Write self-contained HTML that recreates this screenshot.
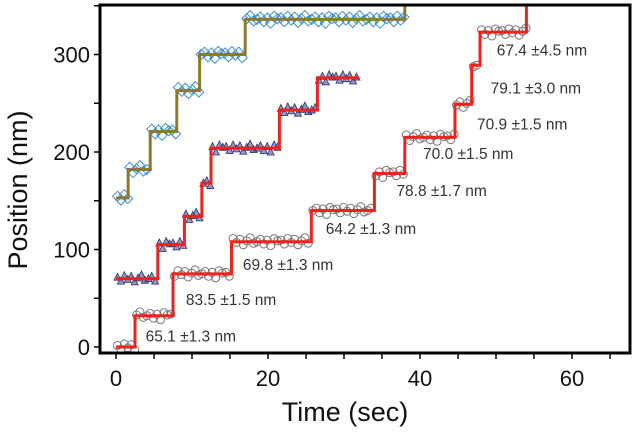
<!DOCTYPE html>
<html><head><meta charset="utf-8"><style>
html,body{margin:0;padding:0;background:#fff;}
svg{display:block;font-family:"Liberation Sans",sans-serif;}
</style></head><body>
<svg id="chart" width="634" height="437" viewBox="0 0 634 437"></svg>
<script>
// data (time sec, position nm)
const goldTimes=[0,1.6,4.5,8,11,17,38];
const goldLevels=[153,182,221,263,300,336,400];
const goldEnd=38;
const redTimes=[0,5.5,9,11.3,12.5,21.5,26.5];
const redLevels=[70,105,134,168,204,243,276];
const redEnd=32;
const greyTimes=[0,2.5,7.5,15.2,25.7,34,38,44.6,46.8,47.9,54];
const greyLevels=[0,32,75,108,140,178,215,249,289,323,400];
const greyEnd=54;
const jitter=[2,-3,4,-1,3,-4,1,5,-2,0,3,-3,2,-5,4,1];
const xTicks=[0,20,40,60];
const yTicks=[0,100,200,300];
const labels=["65.1 \u00b11.3 nm","83.5 \u00b11.5 nm","69.8 \u00b11.3 nm","64.2 \u00b11.3 nm","78.8 \u00b11.7 nm","70.0 \u00b11.5 nm","70.9 \u00b11.5 nm","79.1 \u00b13.0 nm","67.4 \u00b14.5 nm"];
const labelT=[3.9,9.2,16.7,27.6,36.9,40.4,47.5,49.3,50.1];
const labelV=[11,48,84,121,160,198,228,265,304];

const X=t=>116+7.6*t, Y=v=>347-0.975*v;
const L=100,R=630,T=5,B=353;
const svg=document.getElementById('chart');
const NS='http://www.w3.org/2000/svg';
function mk(tag,attrs,parent){const e=document.createElementNS(NS,tag);for(const k in attrs)e.setAttribute(k,attrs[k]);(parent||svg).appendChild(e);return e;}

const defs=mk('defs',{});
const cp=mk('clipPath',{id:'clip'},defs);mk('rect',{x:L,y:T,width:R-L,height:B-T},cp);
const plot=mk('g',{'clip-path':'url(#clip)'});



function markers(times,levels,end,kind,name){
  const g=mk('g',{},plot);
  
  
  let j=0;
  for(let i=0;i<times.length;i++){
    const t1=i+1<times.length?times[i+1]:end;
    if(times[i]>=end)break;
    for(let t=times[i]+0.2;t<t1;t+=0.45){
      const x=X(t),y=Y(levels[i]+jitter[j%jitter.length]*0.8);j++;
      let m;
      if(kind==='d')m=mk('path',{d:`M${x} ${y-5}L${x+5} ${y}L${x} ${y+5}L${x-5} ${y}Z`,fill:'none',stroke:'#3b8fdb','stroke-width':1},g);
      else if(kind==='t')m=mk('path',{d:`M${x} ${y-4}L${x+3.5} ${y+3}L${x-3.5} ${y+3}Z`,fill:'#2b2f78',stroke:'#2b2f78','stroke-width':0.8,'fill-opacity':0.5},g);
      else m=mk('circle',{cx:x,cy:y,r:4,fill:'none',stroke:'#777','stroke-width':1},g);
      
      
    }
  }
}
function steps(times,levels,end,color,name){
  let d=`M${X(times[0])} ${Y(levels[0])}`;
  for(let i=0;i<times.length;i++){
    if(i>0)d+=`L${X(times[i])} ${Y(levels[i])}`;
    const t1=i+1<times.length?times[i+1]:end;
    if(times[i]<end)d+=`L${X(t1)} ${Y(levels[i])}`;
  }
  const p=mk('path',{d,fill:'none',stroke:color,'stroke-width':3},plot);
  
  
}
markers(goldTimes,goldLevels,goldEnd,'d','blue-diamond-points');
markers(redTimes,redLevels,redEnd,'t','triangle-points');
markers(greyTimes,greyLevels,greyEnd,'c','circle-points');
steps(goldTimes,goldLevels,goldEnd,'#8b7a2e','gold-step-fit');
steps(redTimes,redLevels,redEnd,'#f0221c','red-step-fit-triangles');
steps(greyTimes,greyLevels,greyEnd,'#f0221c','red-step-fit-circles');

labels.forEach((s,i)=>{
  const t=mk('text',{x:X(labelT[i]),y:Y(labelV[i])+5,'font-size':15.5,fill:'#333'});
  t.textContent=s;
  
  
});

// frame
const fr=mk('rect',{x:L,y:T,width:R-L,height:B-T,fill:'none',stroke:'#000','stroke-width':3});


// ticks
for(let v=0;v<=350;v+=50){const tk=mk('line',{x1:L-6,x2:L,y1:Y(v),y2:Y(v),stroke:'#000','stroke-width':1.5});
}
for(let t=0;t<=65;t+=5){const tk=mk('line',{x1:X(t),x2:X(t),y1:B,y2:B+6,stroke:'#000','stroke-width':1.5});
}
yTicks.forEach(v=>{const t=mk('text',{x:L-10,y:Y(v)+8,'font-size':22,'text-anchor':'end',fill:'#111'});t.textContent=v;
});
xTicks.forEach(v=>{const t=mk('text',{x:X(v),y:386,'font-size':22,'text-anchor':'middle',fill:'#111'});t.textContent=v;
});
const xt=mk('text',{x:345,y:421,'font-size':27,'text-anchor':'middle',fill:'#111'});xt.textContent='Time (sec)';

const yt=mk('text',{x:0,y:0,'font-size':27,'text-anchor':'middle',fill:'#111',transform:'translate(27,190) rotate(-90)'});yt.textContent='Position (nm)';

</script>
</body></html>
